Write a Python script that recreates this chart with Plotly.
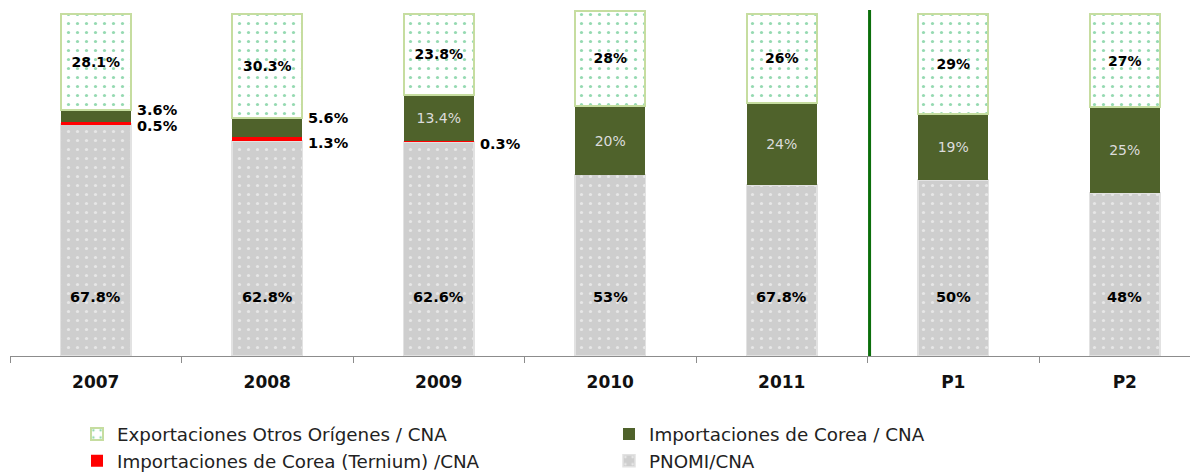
import plotly.graph_objects as go

categories = ["2007", "2008", "2009", "2010", "2011", "P1", "P2"]
pnomi = [67.8, 62.8, 62.6, 53, 50, 51.5, 47.7]
ternium = [0.5, 1.3, 0.3, 0, 0, 0, 0]
corea = [3.6, 5.6, 13.4, 20, 24, 19.3, 25]
otros = [28.1, 30.3, 23.8, 28, 26, 29.2, 27.3]

pnomi_labels = ["67.8%", "62.8%", "62.6%", "53%", "67.8%", "50%", "48%"]
ternium_labels = ["0.5%", "1.3%", "0.3%", "", "", "", ""]
corea_labels = ["3.6%", "5.6%", "13.4%", "20%", "24%", "19%", "25%"]
otros_labels = ["28.1%", "30.3%", "23.8%", "28%", "26%", "29%", "27%"]

FONT = "DejaVu Sans"
BW = 0.41

fig = go.Figure()

fig.add_trace(go.Bar(
    x=categories, y=pnomi, name="PNOMI/CNA", width=BW,
    marker=dict(color="#d0d0d0",
                line=dict(color="#e2e2e2", width=1.5),
                pattern=dict(shape=".", fgcolor="#ffffff", bgcolor="#cecece",
                             size=9, solidity=0.1, fillmode="overlay")),
    legendrank=4, hoverinfo="skip",
))
fig.add_trace(go.Bar(
    x=categories, y=ternium, name="Importaciones de Corea (Ternium) /CNA", width=BW,
    marker=dict(color="#ff0000", line=dict(width=0)),
    legendrank=3, hoverinfo="skip",
))
inside_corea = [t if v >= 10 else "" for t, v in zip(corea_labels, corea)]
fig.add_trace(go.Bar(
    x=categories, y=corea, name="Importaciones de Corea / CNA", width=BW,
    marker=dict(color="#4f622b", line=dict(width=0)),
    text=inside_corea, textposition="inside", insidetextanchor="middle",
    textfont=dict(family=FONT, size=14, color="#dcdcdc"),
    legendrank=2, hoverinfo="skip",
))
fig.add_trace(go.Bar(
    x=categories, y=otros, name="Exportaciones Otros Orígenes / CNA", width=BW,
    marker=dict(color="#ffffff",
                line=dict(color="#c6dda0", width=2),
                pattern=dict(shape=".", fgcolor="#2bb464", bgcolor="#ffffff",
                             size=9, solidity=0.1, fillmode="overlay")),
    text=otros_labels, textposition="inside", insidetextanchor="middle",
    textfont=dict(family=FONT, size=14, color="#000000", weight="bold"),
    legendrank=1, hoverinfo="skip",
))

annotations = []
for i, lab in enumerate(pnomi_labels):
    annotations.append(dict(x=i, y=17.3, xref="x", yref="y", text=lab, showarrow=False,
                            font=dict(family=FONT, size=14.5, color="#000", weight="bold")))
for i in range(len(categories)):
    if corea[i] < 10:
        top = pnomi[i] + ternium[i] + corea[i]
        annotations.append(dict(x=i + BW / 2, y=top, xref="x", yref="y", text=corea_labels[i],
                                showarrow=False, xanchor="left", xshift=4,
                                font=dict(family=FONT, size=14.5, color="#000", weight="bold")))
    if ternium_labels[i]:
        annotations.append(dict(x=i + BW / 2, y=pnomi[i], xref="x", yref="y", text=ternium_labels[i],
                                showarrow=False, xanchor="left", xshift=4, yshift=-2,
                                font=dict(family=FONT, size=14.5, color="#000", weight="bold")))

fig.update_layout(
    width=1190, height=467,
    barmode="stack", bargap=0.59,
    paper_bgcolor="white", plot_bgcolor="white",
    margin=dict(l=2, r=0, t=2, b=119, autoexpand=False),
    font=dict(family=FONT, size=16, color="#222"),
    annotations=annotations,
    shapes=[dict(type="line", xref="x", yref="paper", x0=4.5, x1=4.5, y0=0, y1=1,
                 x0shift=0.012, x1shift=0.012, line=dict(color="#0b6e0b", width=3))],
    legend=dict(orientation="h", x=0.0564, xanchor="left", y=-0.172, yanchor="top",
                entrywidth=487, entrywidthmode="pixels", traceorder="normal",
                font=dict(family=FONT, size=18.3, color="#222"),
                itemwidth=30, tracegroupgap=0, bgcolor="rgba(0,0,0,0)"),
)
fig.update_xaxes(type="category", range=[-0.5, 6.427], showline=True,
                 linecolor="#8c8c8c", linewidth=1, ticks="outside",
                 tickson="boundaries", ticklen=6, tickcolor="#8c8c8c",
                 ticklabelstandoff=11,
                 tickfont=dict(family=FONT, size=17, color="#111", weight="bold"),
                 showgrid=False, zeroline=False)
fig.update_yaxes(range=[0, 101.17], visible=False, showgrid=False)

fig.write_html("out.html")
